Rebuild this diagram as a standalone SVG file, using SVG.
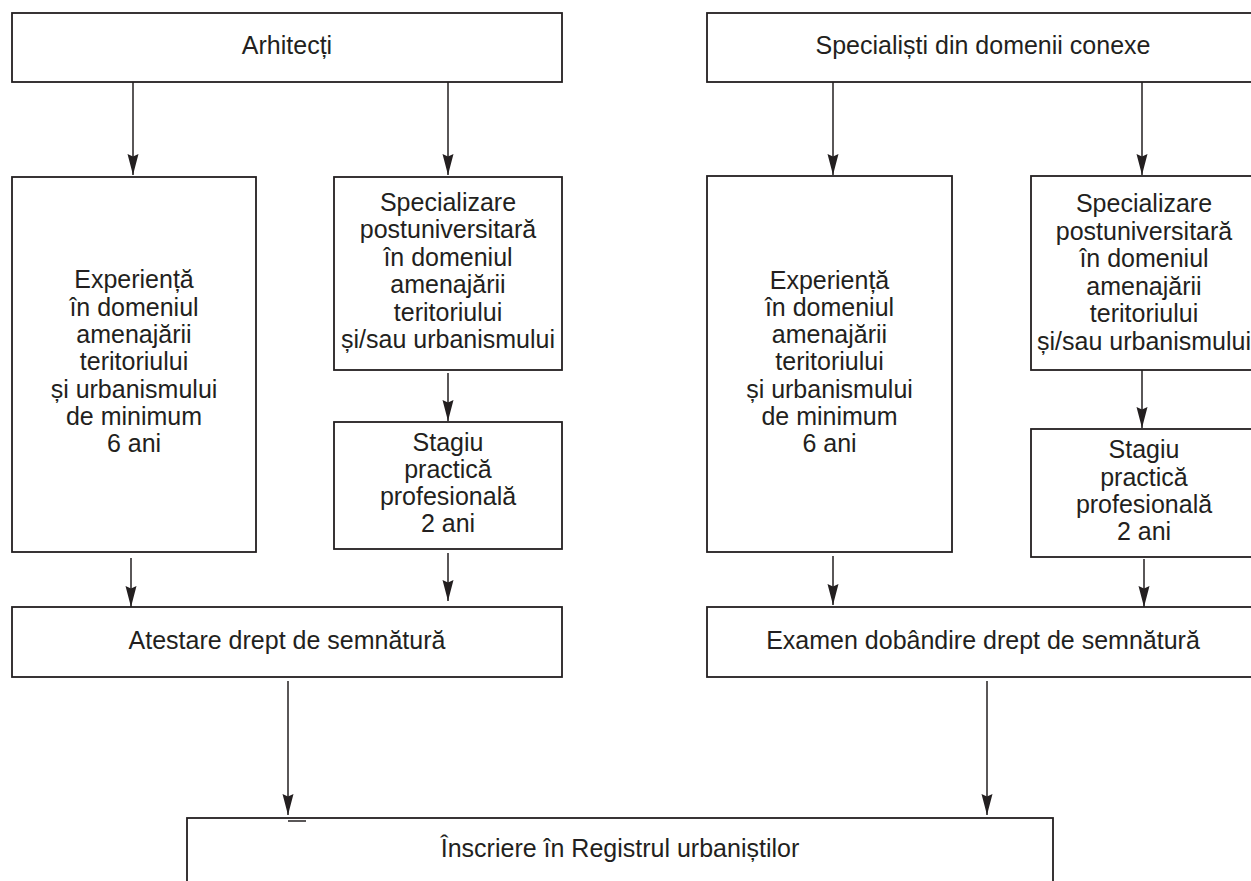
<svg xmlns="http://www.w3.org/2000/svg" width="1251" height="881" viewBox="0 0 1251 881">
<style>
.box{fill:#fff;stroke:#231f20;stroke-width:1.8}
.t{font-family:"Liberation Sans",Arial,sans-serif;font-size:25px;fill:#231f20;text-anchor:middle}
.c{stroke:#231f20;stroke-width:1.5;fill:none;marker-end:url(#ah)}
</style>
<defs>
<marker id="ah" markerUnits="userSpaceOnUse" markerWidth="24" markerHeight="14" viewBox="-22 -7 24 14" refX="0" refY="0" orient="auto" overflow="visible">
<path d="M0,0 L-21,-5.5 L-18.5,0 L-21,5.5 Z" fill="#231f20"/>
</marker>
</defs>
<rect width="1251" height="881" fill="#fff"/>
<g id="arhitecti">
<rect class="box" x="12" y="13" width="550" height="69"/>
<text class="t" x="287" y="54">Arhitecți</text>
</g>
<g id="specialisti">
<rect class="box" x="707" y="13" width="551" height="69"/>
<text class="t" x="983" y="54">Specialiști din domenii conexe</text>
</g>
<g id="experienta-a">
<rect class="box" x="12" y="177" width="244" height="375"/>
<text class="t" x="134" y="288.3">Experiență</text>
<text class="t" x="134" y="315.6">în domeniul</text>
<text class="t" x="134" y="342.9">amenajării</text>
<text class="t" x="134" y="370.2">teritoriului</text>
<text class="t" x="134" y="397.5">și urbanismului</text>
<text class="t" x="134" y="424.8">de minimum</text>
<text class="t" x="134" y="452.1">6 ani</text>
</g>
<g id="specializare-a">
<rect class="box" x="334" y="177" width="228" height="193"/>
<text class="t" x="448" y="211">Specializare</text>
<text class="t" x="448" y="238.4">postuniversitară</text>
<text class="t" x="448" y="265.8">în domeniul</text>
<text class="t" x="448" y="293.2">amenajării</text>
<text class="t" x="448" y="320.6">teritoriului</text>
<text class="t" x="448" y="348">și/sau urbanismului</text>
</g>
<g id="stagiu-a">
<rect class="box" x="334" y="422" width="228" height="127"/>
<text class="t" x="448" y="451">Stagiu</text>
<text class="t" x="448" y="478">practică</text>
<text class="t" x="448" y="505">profesională</text>
<text class="t" x="448" y="532">2 ani</text>
</g>
<g id="experienta-s">
<rect class="box" x="707" y="176" width="245" height="376"/>
<text class="t" x="829.5" y="288.5">Experiență</text>
<text class="t" x="829.5" y="315.8">în domeniul</text>
<text class="t" x="829.5" y="343.1">amenajării</text>
<text class="t" x="829.5" y="370.4">teritoriului</text>
<text class="t" x="829.5" y="397.7">și urbanismului</text>
<text class="t" x="829.5" y="425">de minimum</text>
<text class="t" x="829.5" y="452.3">6 ani</text>
</g>
<g id="specializare-s">
<rect class="box" x="1031" y="176" width="227" height="194"/>
<text class="t" x="1144" y="212">Specializare</text>
<text class="t" x="1144" y="239.6">postuniversitară</text>
<text class="t" x="1144" y="267.2">în domeniul</text>
<text class="t" x="1144" y="294.8">amenajării</text>
<text class="t" x="1144" y="322.4">teritoriului</text>
<text class="t" x="1144" y="350">și/sau urbanismului</text>
</g>
<g id="stagiu-s">
<rect class="box" x="1031" y="429" width="227" height="128"/>
<text class="t" x="1144" y="458.3">Stagiu</text>
<text class="t" x="1144" y="485.5">practică</text>
<text class="t" x="1144" y="512.7">profesională</text>
<text class="t" x="1144" y="539.9">2 ani</text>
</g>
<g id="atestare">
<rect class="box" x="12" y="607" width="550" height="70"/>
<text class="t" x="287" y="649">Atestare drept de semnătură</text>
</g>
<g id="examen">
<rect class="box" x="707" y="607" width="551" height="70"/>
<text class="t" x="983" y="649">Examen dobândire drept de semnătură</text>
</g>
<g id="inscriere">
<rect class="box" x="187" y="818" width="866" height="80"/>
<text class="t" x="620" y="857">Înscriere în Registrul urbaniștilor</text>
</g>
<g id="connectors">
<line class="c" x1="133" y1="82" x2="133" y2="175"/>
<line class="c" x1="448" y1="82" x2="448" y2="175"/>
<line class="c" x1="448" y1="373" x2="448" y2="421"/>
<line class="c" x1="131" y1="558" x2="131" y2="607"/>
<line class="c" x1="448" y1="553" x2="448" y2="601"/>
<line class="c" x1="833" y1="82" x2="833" y2="175"/>
<line class="c" x1="1142" y1="82" x2="1142" y2="175"/>
<line class="c" x1="1142" y1="370" x2="1142" y2="428"/>
<line class="c" x1="833" y1="556" x2="833" y2="605"/>
<line class="c" x1="1144" y1="559" x2="1144" y2="607"/>
<line class="c" x1="288" y1="681" x2="288" y2="815"/>
<line class="c" x1="987" y1="681" x2="987" y2="815"/>
<line x1="288" y1="821" x2="306" y2="821" stroke="#231f20" stroke-width="1.5"/>
</g>
</svg>
